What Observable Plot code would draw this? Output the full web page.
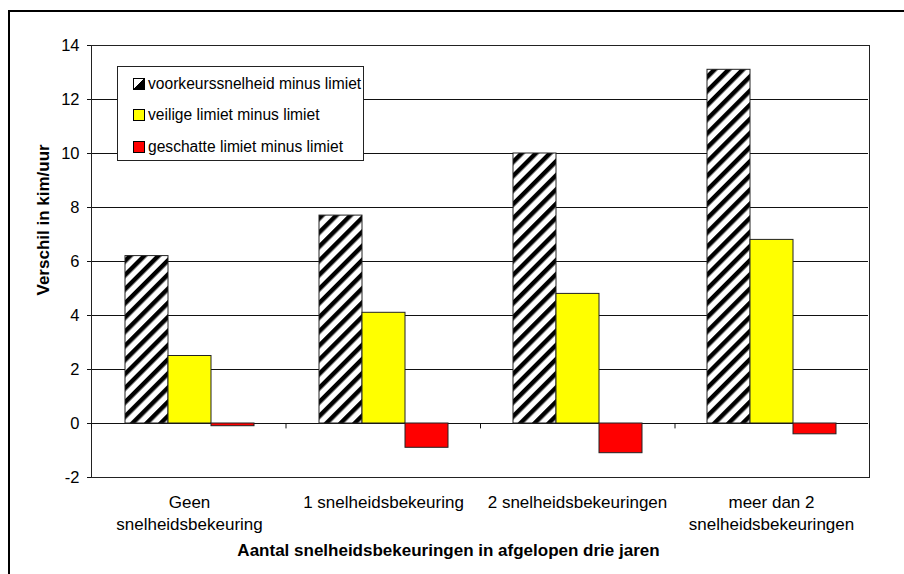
<!DOCTYPE html>
<html>
<head>
<meta charset="utf-8">
<script src="https://cdn.jsdelivr.net/npm/d3@7"></script>
<script src="https://cdn.jsdelivr.net/npm/@observablehq/plot@0.6"></script>
<style>
  html, body { margin: 0; padding: 0; background: #fff; overflow: hidden; }
  body { width: 904px; height: 574px; position: relative; font-family: "Liberation Sans", Arial, sans-serif; }
  #border { position: absolute; left: 8px; top: 10px; width: 1000px; height: 1000px; border: 2px solid #000; }
  #chart { position: absolute; left: 0; top: 0; width: 904px; height: 574px; }
  #chart svg { position: absolute; left: 0; top: 0; }
  #legend {
    position: absolute; left: 117px; top: 66px; width: 245px; height: 93px;
    background: #fff; border: 1px solid #222; font-size: 15.6px; color: #000;
  }
  #legend .item { position: absolute; left: 15px; height: 20px; display: flex; align-items: center; white-space: nowrap; }
  #legend .item svg { margin-right: 3px; }
</style>
</head>
<body>
<div id="border"></div>
<div id="chart"></div>
<div id="legend"></div>
<script>
// Categories (number of speeding tickets in the past three years)
const categories = [
  "Geen\nsnelheidsbekeuring",
  "1 snelheidsbekeuring",
  "2 snelheidsbekeuringen",
  "meer dan 2\nsnelheidsbekeuringen"
];
// Series names
const series = [
  "voorkeurssnelheid minus limiet",
  "veilige limiet minus limiet",
  "geschatte limiet minus limiet"
];
// Values per series, one per category (km/h)
const voorkeur = [6.2, 7.7, 10.0, 13.1];
const veilig = [2.5, 4.1, 4.8, 6.8];
const geschat = [-0.1, -0.9, -1.1, -0.4];
// Y axis ticks
const yTicks = [-2, 0, 2, 4, 6, 8, 10, 12, 14];
const xTitle = "Aantal snelheidsbekeuringen in afgelopen drie jaren";
const yTitle = "Verschil in kim/uur";

const fills = ["url(#hatch)", "#ffff00", "#ff0000"];
const seriesValues = [voorkeur, veilig, geschat];
const table = categories.flatMap((c, i) =>
  series.map((s, j) => ({category: c, series: s, value: seriesValues[j][i]}))
);

const W = 904, H = 574;
const margins = {marginLeft: 91, marginRight: 35, marginTop: 45, marginBottom: 97};
const font = "'Liberation Sans', Arial, sans-serif";

// Bars, grid, y axis and category labels (faceted by category)
const bars = Plot.plot({
  width: W, height: H, ...margins,
  style: {fontFamily: font, fontSize: "16px", background: "transparent", color: "#000", overflow: "visible"},
  fx: {domain: categories, padding: 0, label: null},
  x: {domain: series, paddingInner: 0, paddingOuter: 0.74, axis: null},
  y: {domain: [-2, 14], label: null},
  color: {domain: series, range: fills},
  marks: [
    Plot.gridY(yTicks, {stroke: "#111", strokeOpacity: 1}),
    Plot.barY(table, {fx: "category", x: "series", y: "value", fill: "series", stroke: "#222", strokeWidth: 1}),
    Plot.axisY(yTicks, {tickSize: 5, tickPadding: 8, tickFormat: d => String(d), label: null, fontSize: 16.5, stroke: "#111"}),
    Plot.axisFx({anchor: "bottom", tickSize: 0, tickPadding: 15, label: null, fontSize: 17, lineHeight: 1.29})
  ]
});

// Diagonal hatch used by the first series
const defs = d3.select(bars).insert("defs", ":first-child");
const pat = defs.append("pattern")
  .attr("id", "hatch")
  .attr("patternUnits", "userSpaceOnUse")
  .attr("width", 10).attr("height", 10)
  .attr("patternTransform", "rotate(-45)");
pat.append("rect").attr("width", 10).attr("height", 10).attr("fill", "#fff");
pat.append("rect").attr("width", 10).attr("height", 4.5).attr("fill", "#000");

// Plot frame, category boundary ticks on the zero line, and axis titles
const frame = Plot.plot({
  width: W, height: H, ...margins,
  style: {fontFamily: font, fontSize: "16px", background: "transparent", color: "#000", overflow: "visible"},
  x: {domain: [0, categories.length], axis: null},
  y: {domain: [-2, 14], axis: null},
  marks: [
    Plot.frame({stroke: "#222"}),
    Plot.ruleX(d3.range(categories.length + 1), {y1: 0, y2: -0.2, stroke: "#111"}),
    Plot.text([xTitle], {frameAnchor: "bottom", dx: -32, dy: 78, fontWeight: "bold", fontSize: 17, fill: "#000"}),
    Plot.text([yTitle], {frameAnchor: "left", rotate: -90, dx: -48, dy: 34, fontWeight: "bold", fontSize: 17, fill: "#000"})
  ]
});

const chart = document.getElementById("chart");
chart.append(bars, frame);

// Legend
const legend = d3.select("#legend");
const tops = [7, 38, 70];
series.forEach((s, j) => {
  const item = legend.append("div").attr("class", "item").style("top", tops[j] + "px");
  const sw = item.append("svg").attr("width", 12).attr("height", 12);
  if (j === 0) {
    sw.append("rect").attr("x", 0.5).attr("y", 0.5).attr("width", 11).attr("height", 11).attr("fill", "#fff").attr("stroke", "#000");
    sw.append("path").attr("d", "M11.5,0.5 L11.5,11.5 L0.5,11.5 Z").attr("fill", "#000").attr("stroke", "#000");
  } else {
    sw.append("rect").attr("x", 0.5).attr("y", 0.5).attr("width", 11).attr("height", 11).attr("fill", fills[j]).attr("stroke", "#000");
  }
  item.append("span").text(s);
});
</script>
</body>
</html>
